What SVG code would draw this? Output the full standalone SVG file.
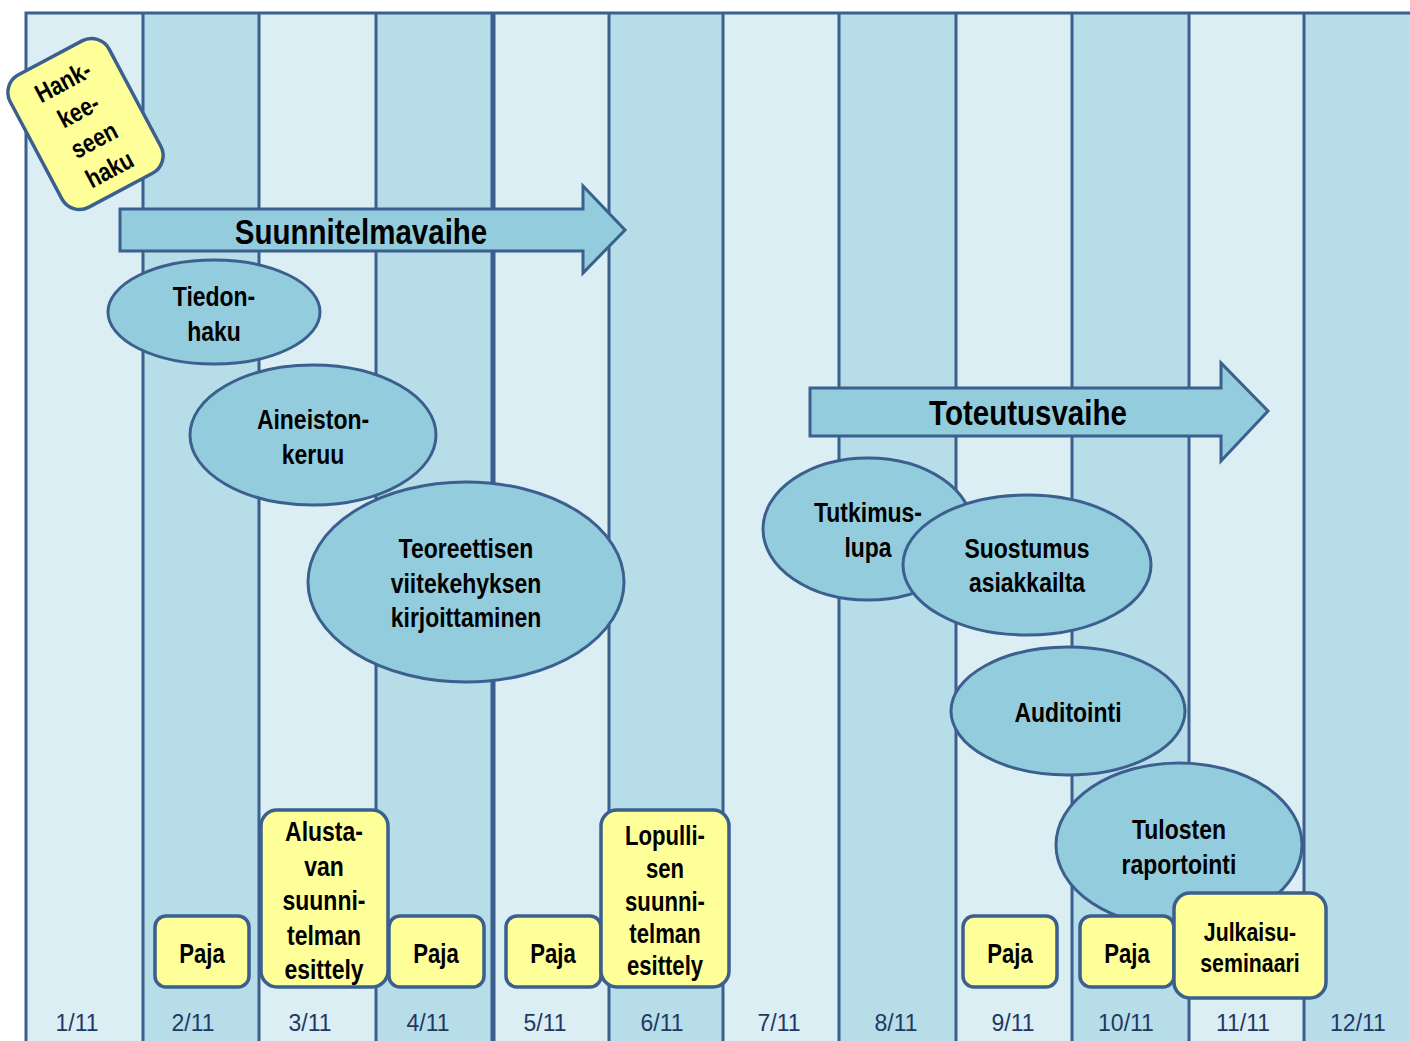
<svg xmlns="http://www.w3.org/2000/svg" width="1410" height="1041" viewBox="0 0 1410 1041">
<style>
.lt{fill:#dbeef4}
.dk{fill:#b7dde8}
.vl{stroke:#3b5f8e;stroke-width:3;fill:none}
.ell{fill:#93cddd;stroke:#3b5f8e;stroke-width:3}
.box{fill:#ffff99;stroke:#3b5f8e;stroke-width:3.5}
.arr{fill:#93cddd;stroke:#3b5f8e;stroke-width:3}
.t{font-family:"Liberation Sans",Arial,sans-serif;font-weight:bold;font-size:28px;fill:#000;text-anchor:middle}
.s27{font-size:27px}
.s26{font-size:26px}
.big{font-size:36px}
.d{font-family:"Liberation Sans","DejaVu Sans",sans-serif;font-size:23px;fill:#1f3864;text-anchor:middle}
</style>
<rect width="1410" height="1041" fill="#ffffff"/>
<g id="columns">
<rect class="lt" x="26" y="13" width="117" height="1028"/>
<rect class="dk" x="143" y="13" width="116" height="1028"/>
<rect class="lt" x="259" y="13" width="117" height="1028"/>
<rect class="dk" x="376" y="13" width="117" height="1028"/>
<rect class="lt" x="493" y="13" width="116" height="1028"/>
<rect class="dk" x="609" y="13" width="114" height="1028"/>
<rect class="lt" x="723" y="13" width="116" height="1028"/>
<rect class="dk" x="839" y="13" width="117" height="1028"/>
<rect class="lt" x="956" y="13" width="116" height="1028"/>
<rect class="dk" x="1072" y="13" width="117" height="1028"/>
<rect class="lt" x="1189" y="13" width="115" height="1028"/>
<rect class="dk" x="1304" y="13" width="106" height="1028"/>
<path class="vl" d="M26 1041V13H1410M143 13V1041M259 13V1041M376 13V1041M609 13V1041M723 13V1041M839 13V1041M956 13V1041M1072 13V1041M1189 13V1041M1304 13V1041"/>
<path class="vl" style="stroke-width:5" d="M493 13V1041"/>
</g>
<g id="dates">
<text class="d" x="77" y="1031">1/11</text>
<text class="d" x="193" y="1031">2/11</text>
<text class="d" x="310" y="1031">3/11</text>
<text class="d" x="428" y="1031">4/11</text>
<text class="d" x="545" y="1031">5/11</text>
<text class="d" x="662" y="1031">6/11</text>
<text class="d" x="779" y="1031">7/11</text>
<text class="d" x="896" y="1031">8/11</text>
<text class="d" x="1013" y="1031">9/11</text>
<text class="d" x="1126" y="1031">10/11</text>
<text class="d" x="1243" y="1031">11/11</text>
<text class="d" x="1358" y="1031">12/11</text>
</g>
<g id="connectors"></g>
<g id="hankkeeseen">
<g transform="translate(85.5,124) rotate(-28)">
<rect class="box" x="-56" y="-75" width="112" height="150" rx="20"/>
<text class="t s26" transform="translate(0 -39) scale(.82 1)">Hank-</text>
<text class="t s26" transform="translate(0 -6) scale(.82 1)">kee-</text>
<text class="t s26" transform="translate(0 27) scale(.82 1)">seen</text>
<text class="t s26" transform="translate(0 60) scale(.82 1)">haku</text>
</g>
</g>
<g id="suunnitelmavaihe">
<path class="arr" d="M120 209H583V186L625 230L583 273V251H120Z"/>
<text class="t big" transform="translate(361 244) scale(.82 1)">Suunnitelmavaihe</text>
</g>
<g id="toteutusvaihe">
<path class="arr" d="M810 388H1221V363L1268 411L1221 461V436H810Z"/>
<text class="t big" transform="translate(1028 425) scale(.82 1)">Toteutusvaihe</text>
</g>
<g id="tiedonhaku">
<ellipse class="ell" cx="214" cy="312" rx="106" ry="52"/>
<text class="t" transform="translate(214 306) scale(.82 1)">Tiedon-</text>
<text class="t" transform="translate(214 341) scale(.82 1)">haku</text>
</g>
<g id="aineistonkeruu">
<ellipse class="ell" cx="313" cy="435" rx="123" ry="70"/>
<text class="t" transform="translate(313 429) scale(.82 1)">Aineiston-</text>
<text class="t" transform="translate(313 464) scale(.82 1)">keruu</text>
</g>
<g id="teoreettisen">
<ellipse class="ell" cx="466" cy="582" rx="158" ry="100"/>
<text class="t" transform="translate(466 558) scale(.82 1)">Teoreettisen</text>
<text class="t" transform="translate(466 593) scale(.82 1)">viitekehyksen</text>
<text class="t" transform="translate(466 627) scale(.82 1)">kirjoittaminen</text>
</g>
<g id="tutkimuslupa">
<ellipse class="ell" cx="868" cy="529" rx="105" ry="71"/>
<text class="t" transform="translate(868 522) scale(.82 1)">Tutkimus-</text>
<text class="t" transform="translate(868 557) scale(.82 1)">lupa</text>
</g>
<g id="suostumus">
<ellipse class="ell" cx="1027" cy="565" rx="124" ry="70"/>
<text class="t" transform="translate(1027 558) scale(.82 1)">Suostumus</text>
<text class="t" transform="translate(1027 592) scale(.82 1)">asiakkailta</text>
</g>
<g id="auditointi">
<ellipse class="ell" cx="1068" cy="711" rx="117" ry="64"/>
<text class="t" transform="translate(1068 722) scale(.82 1)">Auditointi</text>
</g>
<g id="tulosten">
<ellipse class="ell" cx="1179" cy="845" rx="123" ry="82"/>
<text class="t" transform="translate(1179 839) scale(.82 1)">Tulosten</text>
<text class="t" transform="translate(1179 874) scale(.82 1)">raportointi</text>
</g>
<g id="paja2">
<rect class="box" x="155" y="916" width="94" height="71" rx="11"/>
<text class="t s27" transform="translate(202 963) scale(.82 1)">Paja</text>
</g>
<g id="alustavan">
<rect class="box" x="261" y="810" width="127" height="177" rx="16"/>
<text class="t" transform="translate(324 841) scale(.82 1)">Alusta-</text>
<text class="t" transform="translate(324 876) scale(.82 1)">van</text>
<text class="t" transform="translate(324 910) scale(.82 1)">suunni-</text>
<text class="t" transform="translate(324 945) scale(.82 1)">telman</text>
<text class="t" transform="translate(324 979) scale(.82 1)">esittely</text>
</g>
<g id="paja4">
<rect class="box" x="389" y="916" width="95" height="71" rx="11"/>
<text class="t s27" transform="translate(436 963) scale(.82 1)">Paja</text>
</g>
<g id="paja5">
<rect class="box" x="506" y="916" width="95" height="71" rx="11"/>
<text class="t s27" transform="translate(553 963) scale(.82 1)">Paja</text>
</g>
<g id="lopullisen">
<rect class="box" x="601" y="810" width="128" height="177" rx="16"/>
<text class="t s27" transform="translate(665 845) scale(.82 1)">Lopulli-</text>
<text class="t s27" transform="translate(665 878) scale(.82 1)">sen</text>
<text class="t s27" transform="translate(665 911) scale(.82 1)">suunni-</text>
<text class="t s27" transform="translate(665 943) scale(.82 1)">telman</text>
<text class="t s27" transform="translate(665 975) scale(.82 1)">esittely</text>
</g>
<g id="paja9">
<rect class="box" x="963" y="916" width="94" height="71" rx="11"/>
<text class="t s27" transform="translate(1010 963) scale(.82 1)">Paja</text>
</g>
<g id="paja10">
<rect class="box" x="1080" y="916" width="94" height="71" rx="11"/>
<text class="t s27" transform="translate(1127 963) scale(.82 1)">Paja</text>
</g>
<g id="julkaisuseminaari">
<rect class="box" x="1174" y="893" width="152" height="105" rx="16"/>
<text class="t s26" transform="translate(1250 941) scale(.82 1)">Julkaisu-</text>
<text class="t s26" transform="translate(1250 972) scale(.82 1)">seminaari</text>
</g>
</svg>
